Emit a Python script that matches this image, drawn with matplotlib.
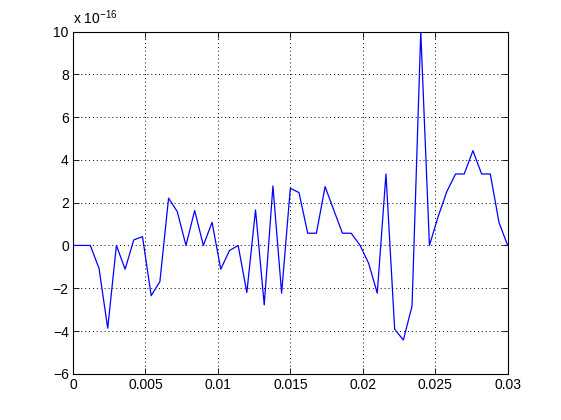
import numpy as np
import matplotlib
matplotlib.use('Agg')
import matplotlib.pyplot as plt

# sample times (s), dt = 0.6 ms
t = np.linspace(0, 0.03, 51)

# signal values in units of 1e-16
y = [0, 0, 0, -1.07, -3.87, 0, -1.11, 0.26, 0.41, -2.35,
     -1.69, 2.21, 1.58, 0, 1.63, 0, 1.08, -1.11, -0.24, 0,
     -2.2, 1.66, -2.78, 2.78, -2.23, 2.67, 2.47, 0.57, 0.57, 2.75,
     1.65, 0.57, 0.57, 0.02, -0.83, -2.23, 3.34, -3.92, -4.42, -2.83,
     10.0, 0, 1.35, 2.52, 3.34, 3.34, 4.43, 3.34, 3.34, 1.07,
     0]

xticks = [0, 0.005, 0.01, 0.015, 0.02, 0.025, 0.03]
xticklabels = ['0', '0.005', '0.01', '0.015', '0.02', '0.025', '0.03']
yticks = [-6, -4, -2, 0, 2, 4, 6, 8, 10]

plt.rcParams['font.family'] = 'Liberation Sans'
plt.rcParams['font.size'] = 10
plt.rcParams['mathtext.default'] = 'regular'

fig = plt.figure(figsize=(5.61, 4.2), dpi=100)
ax = fig.add_axes([0.13, 0.11, 0.775, 0.815])

ax.plot(t, y, color='#0000ff', linewidth=0.9)

ax.set_xlim(0, 0.03)
ax.set_ylim(-6, 10)
ax.set_xticks(xticks)
ax.set_xticklabels(xticklabels)
ax.set_yticks(yticks)
ax.tick_params(direction='in', length=4, width=0.6, top=True, right=True, pad=3)
ax.grid(True, color='black', linestyle=(0, (1, 3)), linewidth=0.7)
for s in ax.spines.values():
    s.set_linewidth(0.8)

ax.text(0.0, 1.012, r'x 10$^{-16}$', transform=ax.transAxes, ha='left', va='bottom', fontsize=10)

fig.savefig('out.png', dpi=100, facecolor='white')
